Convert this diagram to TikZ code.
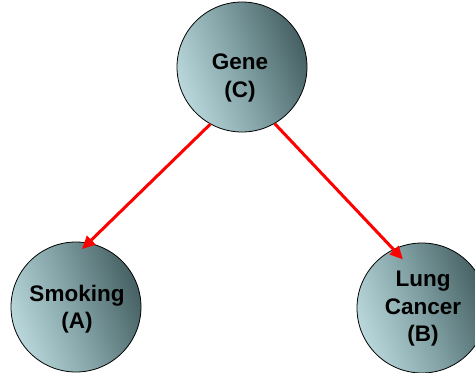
\documentclass[tikz,border=0pt]{standalone}
\usepackage{fontspec}
\setmainfont{Liberation Sans}
\usetikzlibrary{arrows.meta,calc}
\definecolor{balllight}{RGB}{186,216,220}
\definecolor{ballmid}{RGB}{128,160,163}
\definecolor{balldark}{RGB}{70,96,99}
\definecolor{arrowred}{RGB}{255,0,0}
\tikzset{
  ball/.style={circle, draw=black, line width=0.8pt, minimum size=130pt, inner sep=0pt,
    left color=balllight, right color=balldark, middle color=ballmid, shading angle=110},
  balltext/.style={align=center, font=\bfseries\fontsize{22.5}{27.5}\selectfont, text=black},
  causal/.style={draw=arrowred, line width=3pt, -{Triangle[length=13pt,width=12pt]}}
}
\begin{document}
\begin{tikzpicture}[x=1pt,y=-1pt]
\useasboundingbox (0,0) rectangle (475,373);
\node[ball] (gene) at (242,67) {};
\node[ball] (smoking) at (76,307) {};
\node[ball] (lung) at (422,308) {};
\node[balltext] (genetext) at (240,78) {Gene\\(C)};
\node[balltext] (smokingtext) at (77,309) {Smoking\\(A)};
\node[balltext] (lungtext) at (423,309) {Lung\\Cancer\\(B)};
\draw[causal, shorten >=-9pt] (gene.241) -- (smoking.79);
\draw[causal, shorten >=-14pt] (gene.300) -- (lung.116);
\end{tikzpicture}
\end{document}
